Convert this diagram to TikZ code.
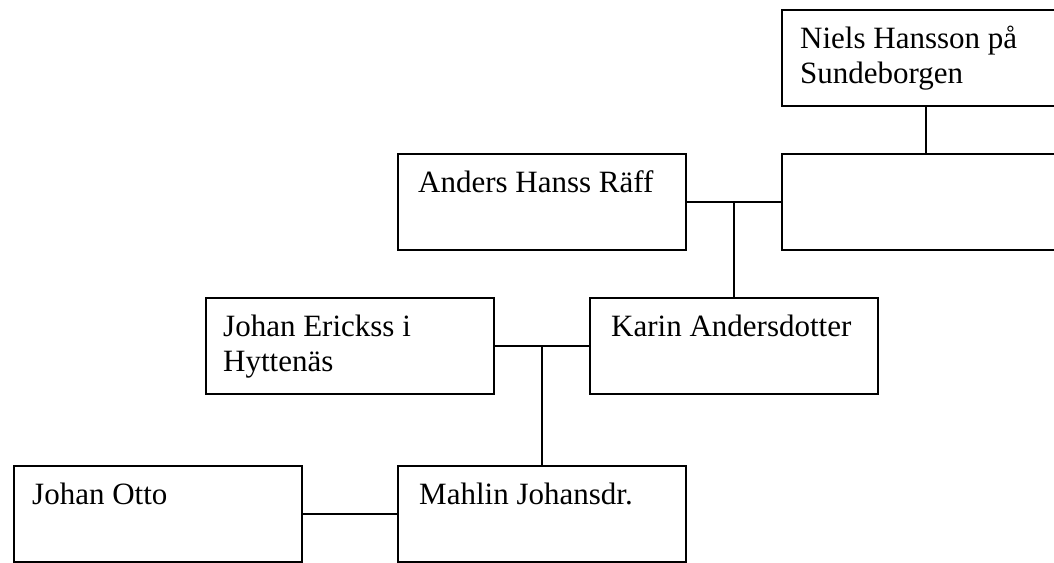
\documentclass[tikz,border=0pt]{standalone}
\usepackage{fontspec}
\setmainfont{Liberation Serif}
\usetikzlibrary{calc}
\begin{document}
\begin{tikzpicture}[x=1pt,y=-1pt,
  box/.style={draw, line width=1.9pt, minimum width=288pt, minimum height=96pt, anchor=north west, inner sep=0pt},
  txt/.style={anchor=base west, inner sep=0pt, font=\fontsize{31}{35}\selectfont},
  conn/.style={line width=1.9pt}]
\useasboundingbox (0,0) rectangle (1054,562);
\clip (0,0) rectangle (1054,562);
\node[box] (niels) at (781,9) {};
\node[box] (empty) at (781,153) {};
\node[box] (anders) at (397,153) {};
\node[box] (johanE) at (205,297) {};
\node[box] (karin) at (589,297) {};
\node[box] (otto) at (13,465) {};
\node[box] (mahlin) at (397,465) {};
\node[txt] (nielsT1) at ($(niels.north west)+(19,39)$) {Niels Hansson på};
\node[txt] (nielsT2) at ($(niels.north west)+(19,74)$) {Sundeborgen};
\node[txt] (andersT) at ($(anders.north west)+(21,39)$) {Anders Hanss Räff};
\node[txt] (johanET1) at ($(johanE.north west)+(18,39)$) {Johan Erickss i};
\node[txt] (johanET2) at ($(johanE.north west)+(18,74)$) {Hyttenäs};
\node[txt] (karinT) at ($(karin.north west)+(22,39)$) {Karin Andersdotter};
\node[txt] (ottoT) at ($(otto.north west)+(19,39)$) {Johan Otto};
\node[txt] (mahlinT) at ($(mahlin.north west)+(22,39)$) {Mahlin Johansdr.};
\draw[conn] (niels.south) -- (empty.north);
\draw[conn] (anders.east) -- (empty.west);
\coordinate (m1) at ($(anders.east)!0.5!(empty.west)$);
\draw[conn] (m1) -- (m1 |- karin.north);
\draw[conn] (johanE.east) -- (karin.west);
\coordinate (m2) at ($(johanE.east)!0.5!(karin.west)$);
\draw[conn] (m2) -- (m2 |- mahlin.north);
\draw[conn] (otto.east) -- (mahlin.west);
\end{tikzpicture}
\end{document}
